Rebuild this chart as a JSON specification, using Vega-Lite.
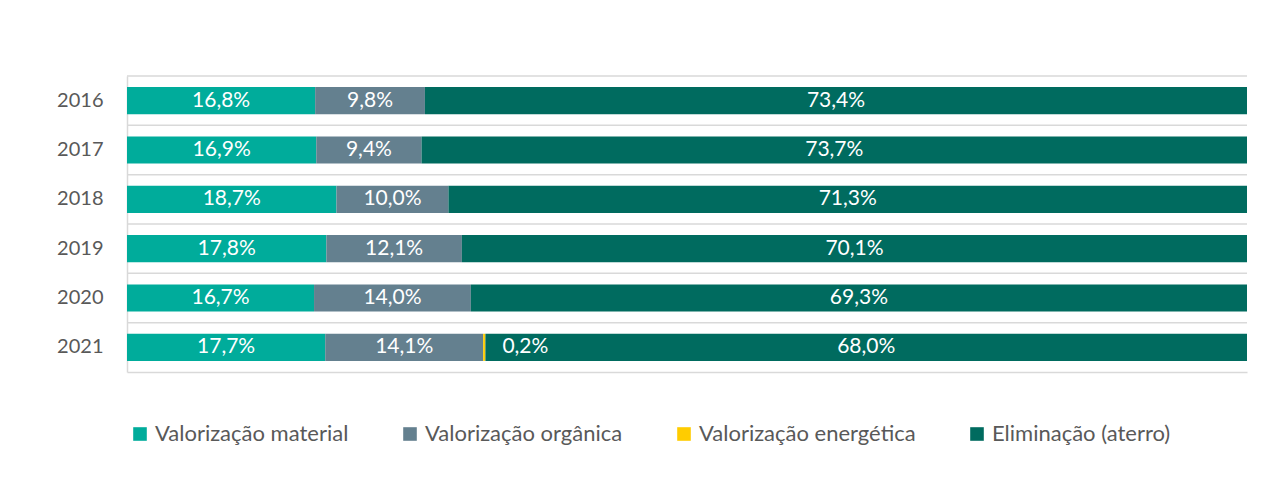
{
  "$schema": "https://vega.github.io/schema/vega-lite/v6.json",
  "width": 1120,
  "height": 296,
  "autosize": {"type": "none"},
  "padding": {"left": 127, "top": 76, "right": 41, "bottom": 129},
  "background": "white",
  "config": {
    "locale": {"number": {"decimal": ",", "thousands": ".", "grouping": [3], "currency": ["", " €"]}},
    "view": {"stroke": null},
    "font": "Lato"
  },
  "data": {
    "values": [
      {"ano": "2016", "cat": "Valorização material", "k": 1, "v": 0.168},
      {"ano": "2016", "cat": "Valorização orgânica", "k": 2, "v": 0.098},
      {"ano": "2016", "cat": "Eliminação (aterro)", "k": 4, "v": 0.734},
      {"ano": "2017", "cat": "Valorização material", "k": 1, "v": 0.169},
      {"ano": "2017", "cat": "Valorização orgânica", "k": 2, "v": 0.094},
      {"ano": "2017", "cat": "Eliminação (aterro)", "k": 4, "v": 0.737},
      {"ano": "2018", "cat": "Valorização material", "k": 1, "v": 0.187},
      {"ano": "2018", "cat": "Valorização orgânica", "k": 2, "v": 0.100},
      {"ano": "2018", "cat": "Eliminação (aterro)", "k": 4, "v": 0.713},
      {"ano": "2019", "cat": "Valorização material", "k": 1, "v": 0.178},
      {"ano": "2019", "cat": "Valorização orgânica", "k": 2, "v": 0.121},
      {"ano": "2019", "cat": "Eliminação (aterro)", "k": 4, "v": 0.701},
      {"ano": "2020", "cat": "Valorização material", "k": 1, "v": 0.167},
      {"ano": "2020", "cat": "Valorização orgânica", "k": 2, "v": 0.140},
      {"ano": "2020", "cat": "Eliminação (aterro)", "k": 4, "v": 0.693},
      {"ano": "2021", "cat": "Valorização material", "k": 1, "v": 0.177},
      {"ano": "2021", "cat": "Valorização orgânica", "k": 2, "v": 0.141},
      {"ano": "2021", "cat": "Valorização energética", "k": 3, "v": 0.002},
      {"ano": "2021", "cat": "Eliminação (aterro)", "k": 4, "v": 0.680}
    ]
  },
  "transform": [
    {"stack": "v", "groupby": ["ano"], "sort": [{"field": "k", "order": "ascending"}], "as": ["v0", "v1"]},
    {"calculate": "(datum.v0 + datum.v1) / 2", "as": "mid"}
  ],
  "resolve": {"scale": {"y": "independent"}, "axis": {"y": "independent"}},
  "layer": [
    {
      "transform": [{"filter": "datum.k == 1"}],
      "mark": {"type": "rule", "color": "#d9d9d9", "strokeWidth": 1.5},
      "encoding": {
        "y": {
          "field": "ano",
          "type": "ordinal",
          "bandPosition": 0,
          "scale": {"paddingInner": 0, "paddingOuter": 0},
          "axis": null
        }
      }
    },
    {
      "layer": [
        {
          "mark": {"type": "bar"},
          "encoding": {
            "x": {
              "field": "v0",
              "type": "quantitative",
              "scale": {"domain": [0, 1], "nice": false},
              "axis": {"title": null, "labels": false, "ticks": false, "grid": false, "domainColor": "#d9d9d9", "domainWidth": 1.5}
            },
            "x2": {"field": "v1"},
            "color": {
              "field": "cat",
              "type": "nominal",
              "scale": {
                "domain": ["Valorização material", "Valorização orgânica", "Valorização energética", "Eliminação (aterro)"],
                "range": ["#00ac9b", "#64808f", "#ffcc00", "#006b5f"]
              },
              "legend": {
                "title": null,
                "orient": "none",
                "direction": "horizontal",
                "legendX": 2,
                "legendY": 347,
                "symbolType": "square",
                "symbolSize": 185,
                "symbolStrokeWidth": 0,
                "labelOffset": 4,
                "labelFontSize": 22,
                "labelColor": "#595959",
                "labelFont": "Lato",
                "labelLimit": 400,
                "columnPadding": 50
              }
            }
          }
        },
        {
          "transform": [{"filter": "datum.k != 3"}],
          "mark": {"type": "text", "color": "white", "fontSize": 21, "font": "Lato", "baseline": "middle", "align": "center"},
          "encoding": {
            "x": {"field": "mid", "type": "quantitative"},
            "text": {"field": "v", "type": "quantitative", "format": ".1%"}
          }
        },
        {
          "transform": [{"filter": "datum.k == 3"}],
          "mark": {"type": "text", "color": "white", "fontSize": 21, "font": "Lato", "baseline": "middle", "align": "left", "dx": 17},
          "encoding": {
            "x": {"field": "v1", "type": "quantitative"},
            "text": {"field": "v", "type": "quantitative", "format": ".1%"}
          }
        }
      ],
      "encoding": {
        "y": {
          "field": "ano",
          "type": "ordinal",
          "scale": {"paddingInner": 0.45, "paddingOuter": 0.225},
          "axis": {
            "orient": "left",
            "title": null,
            "grid": false,
            "domainColor": "#d9d9d9",
            "domainWidth": 1.5,
            "ticks": false,
            "labelPadding": 24,
            "labelFontSize": 20,
            "labelColor": "#595959",
            "labelFont": "Lato"
          }
        }
      }
    }
  ]
}
